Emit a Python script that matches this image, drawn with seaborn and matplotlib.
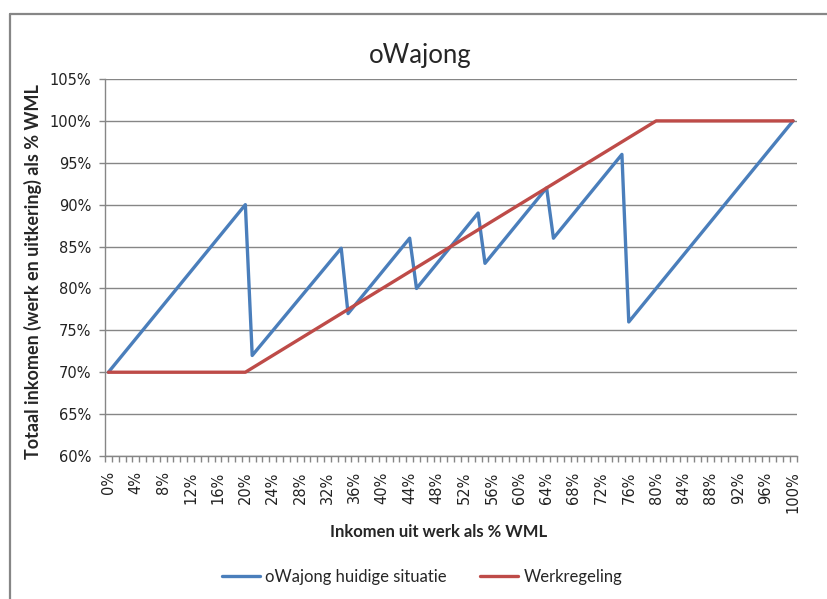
import matplotlib
matplotlib.use("Agg")
import matplotlib.pyplot as plt
from matplotlib.lines import Line2D
from matplotlib.ticker import FixedLocator
import numpy as np
import pandas as pd
import seaborn as sns

# breakpoints (income from work as % WML -> total income as % WML)
blue_label = "oWajong huidige situatie"
blue_x = [0, 20, 21, 34, 35, 44, 45, 54, 55, 64, 65, 75, 76, 100]
blue_y = [70, 90, 72, 84.8, 77, 86, 80, 89, 83, 92, 86, 96, 76, 100]

red_label = "Werkregeling"
red_x = [0, 20, 80, 100]
red_y = [70, 70, 100, 100]

x_tick_values = list(range(0, 101, 4))
x_tick_labels = [str(v) + "%" for v in x_tick_values]
y_tick_values = list(range(60, 106, 5))
y_tick_labels = [str(v) + "%" for v in y_tick_values]

title = "oWajong"
x_title = "Inkomen uit werk als % WML"
y_title = "Totaal inkomen (werk en uitkering) als % WML"

colours = {blue_label: "#4A7EBB", red_label: "#BE4B48"}
grey = "#868686"

df = pd.concat([
    pd.DataFrame({"x": blue_x, "y": blue_y, "serie": blue_label}),
    pd.DataFrame({"x": red_x, "y": red_y, "serie": red_label}),
])

sns.set_style("white")
plt.rcParams["font.family"] = ["DejaVu Sans"]

fig = plt.figure(figsize=(8.27, 5.99), dpi=100)
ax = fig.add_axes([105 / 827, 1 - 456 / 599, (796.5 - 105) / 827, (456 - 79) / 599])

sns.lineplot(data=df, x="x", y="y", hue="serie", palette=colours, linewidth=2.4,
             sort=False, estimator=None, legend=False, ax=ax)

ax.set_xlim(-0.5, 100.5)
ax.set_ylim(60, 105)

ax.set_yticks(y_tick_values)
ax.set_yticklabels(y_tick_labels, fontsize=10.5, color="#222222")
ax.yaxis.grid(True, color=grey, linewidth=1)
ax.set_axisbelow(True)

ax.set_xticks(x_tick_values)
ax.set_xticklabels(x_tick_labels, rotation=90, fontsize=10.5, color="#222222")
ax.xaxis.set_minor_locator(FixedLocator(np.arange(-0.5, 101, 1)))
ax.tick_params(axis="x", which="major", length=0, pad=11)
ax.tick_params(axis="x", which="minor", length=4, color=grey, width=1, bottom=True)
ax.tick_params(axis="y", which="major", length=4, color=grey, width=1, left=True, pad=6)

for side in ["top", "right"]:
    ax.spines[side].set_visible(False)
for side in ["left", "bottom"]:
    ax.spines[side].set_color(grey)
    ax.spines[side].set_linewidth(1)

ax.set_xlabel("")
ax.set_ylabel("")

fig.text(420 / 827, 1 - 56 / 599, title, fontsize=18.5, family=["Lato", "DejaVu Sans"],
         ha="center", va="center")
fig.text(439 / 827, 1 - 532 / 599, x_title, fontsize=12, fontweight="bold",
         family=["Lato", "DejaVu Sans"], ha="center", va="center")
fig.text(33 / 827, 1 - 272 / 599, y_title, fontsize=13, fontweight="bold",
         family=["Lato", "DejaVu Sans"], ha="center", va="center", rotation=90)

handles = [Line2D([0], [0], color=colours[blue_label], linewidth=2.4),
           Line2D([0], [0], color=colours[red_label], linewidth=2.4)]
fig.legend(handles, [blue_label, red_label], loc="center", bbox_to_anchor=(422 / 827, 1 - 577 / 599),
           ncol=2, frameon=False, handlelength=2.3, handletextpad=0.3, columnspacing=2.0,
           prop={"family": ["Lato", "DejaVu Sans"], "size": 12})

# outer chart border (left and top edges visible in the reference)
fig.add_artist(Line2D([9.5 / 827, 9.5 / 827], [0, 1 - 13.5 / 599], color=grey, linewidth=1.6,
                      transform=fig.transFigure))
fig.add_artist(Line2D([9.5 / 827, 1], [1 - 13.5 / 599, 1 - 13.5 / 599], color=grey, linewidth=1.6,
                      transform=fig.transFigure))

fig.savefig("out.png", dpi=100)
